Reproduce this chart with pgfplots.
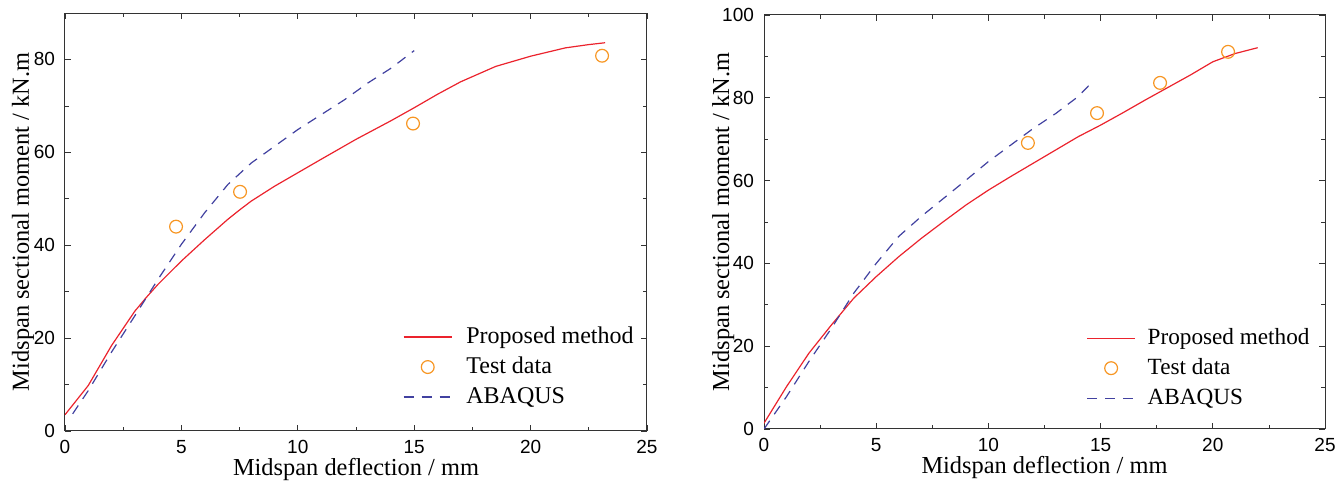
\documentclass[border=0pt]{standalone}
\usepackage{pgfplots}
\pgfplotsset{compat=1.18}
\usepackage{fontspec}
\setmainfont{Liberation Serif}
\setsansfont{Liberation Sans}
\definecolor{cred}{RGB}{235,35,45}
\definecolor{corange}{RGB}{247,150,35}
\definecolor{cblue}{RGB}{65,65,160}
\pgfplotsset{
  myaxis/.style={
    scale only axis,
    xmin=0, xmax=25,
    xtick={0,5,...,25},
    minor x tick num=1, minor y tick num=1,
    tick align=inside,
    major tick length=3pt, minor tick length=2pt,
    axis line style={black!80, line width=0.5pt},
    tick style={black!80, line width=0.4pt},
    tick label style={font=\sffamily\fontsize{9.5}{10}\selectfont},
    /pgf/number format/assume math mode=true,
    xticklabel style={yshift=-1pt},
    yticklabel style={xshift=-1.5pt},
    label style={font=\fontsize{12.2}{14}\selectfont},
    xlabel={Midspan deflection / mm},
    ylabel={Midspan sectional moment / kN.m},
    ylabel style={at={(axis description cs:-0.062,0.5)}, anchor=base, rotate=0},
    legend cell align=left,
    legend style={draw=none, fill=none, font=\fontsize{12}{14}\selectfont,
      row sep=3pt, nodes={inner sep=0pt, text height=9pt, text depth=3pt},
      column sep=7pt, anchor=north west},
  },
  lineleg/.style={legend image code/.code={\draw[##1] (0pt,0pt) -- (24pt,0pt);}},
  markleg/.style={legend image code/.code={\draw[##1, mark repeat=2, mark phase=2] plot coordinates {(0pt,0pt) (12pt,0pt) (24pt,0pt)};}},
  redline/.style={cred, line width=0.6pt, no marks, lineleg},
  blueline/.style={cblue, line width=0.6pt, dash pattern=on 5pt off 4pt, no marks, lineleg},
  testmarks/.style={corange, only marks, mark=o, mark size=3.2pt, mark options={line width=0.6pt}, markleg},
}
\begin{document}
\begin{tikzpicture}
\useasboundingbox (0,0) rectangle (672pt,240.5pt);
\begin{axis}[myaxis, at={(32.5pt,25pt)}, anchor=origin, width=291pt, height=209pt,
  ymin=0, ymax=90, ytick={0,20,...,80},
  xlabel style={at={(axis description cs:0.5,0)}, anchor=base, yshift=-22.5pt},
  legend style={at={(axis description cs:0.57,0.264)}}]
\addplot[redline] coordinates {(0,3.5) (1,9.8) (2,18.4) (3,25.8) (3.5,28.8) (4,31.6) (5,36.6) (6,41.2) (7,45.6) (7.5,47.6) (8,49.5) (9,52.7) (10,55.6) (11,58.5) (12.5,62.8) (14,66.8) (15,69.6) (16,72.5) (17,75.2) (18.5,78.5) (20,80.7) (21.5,82.5) (22.5,83.2) (23.2,83.6)};
\addlegendentry{Proposed method}
\addplot[testmarks] coordinates {(4.77,44.0) (7.52,51.5) (14.95,66.2) (23.07,80.8)};
\addlegendentry{Test data}
\addplot[blueline] coordinates {(0.33,3.7) (1,8.7) (2,17) (3,24.8) (4,32.7) (5,40.2) (6,47) (7,53.1) (8,57.7) (9,61.3) (10,64.9) (11,68.1) (12,71.3) (13,74.9) (14,78.1) (15,81.9)};
\addlegendentry{ABAQUS}
\end{axis}
\begin{axis}[myaxis, at={(382pt,26pt)}, anchor=origin, width=280.5pt, height=207pt,
  ymin=0, ymax=100, ytick={0,20,...,100},
  xlabel style={at={(axis description cs:0.5,0)}, anchor=base, yshift=-22.5pt},
  legend style={at={(axis description cs:0.5635,0.259)}, font=\fontsize{11.6}{14}\selectfont, column sep=6pt}]
\addplot[redline] coordinates {(0,1.4) (1,10.2) (2,18.3) (3,25.1) (4,31.6) (5,36.8) (6,41.6) (7,46) (8,50.1) (9,54.1) (10,57.7) (11,61) (12,64.2) (13,67.4) (14,70.6) (15,73.4) (16,76.4) (17,79.5) (18,82.5) (19,85.5) (20,88.7) (21,90.7) (22,92.1)};
\addlegendentry{Proposed method}
\addplot[testmarks] coordinates {(11.76,69.1) (14.84,76.3) (17.65,83.6) (20.68,91.1)};
\addlegendentry{Test data}
\addplot[blueline] coordinates {(0,0) (1,7.8) (2,16.3) (3,24.3) (4,32.8) (5,40) (6,46.5) (7,51.3) (8,55.7) (9,60.1) (10,64.6) (11,68.6) (12,72.6) (13,76.2) (14,80.3) (14.5,83.1)};
\addlegendentry{ABAQUS}
\end{axis}
\end{tikzpicture}
\end{document}
